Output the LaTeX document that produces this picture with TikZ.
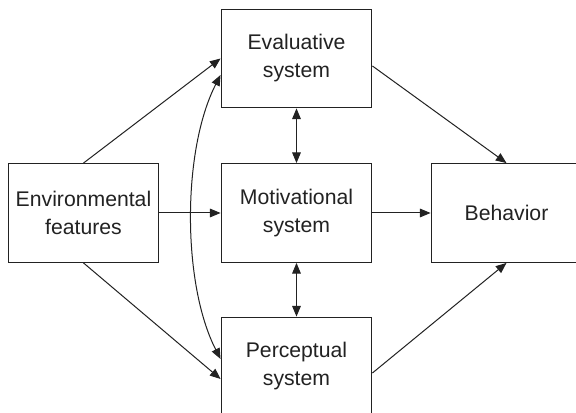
\documentclass[tikz,border=0pt]{standalone}
\usepackage{fontspec}
\setmainfont{Liberation Sans}
\usetikzlibrary{arrows.meta,calc}
\definecolor{ink}{HTML}{222222}
\begin{document}
\begin{tikzpicture}[x=0.75pt,y=0.75pt,
  sysbox/.style={draw=ink,line width=0.9pt,minimum width=113pt,minimum height=74pt,inner sep=0pt,
    align=center,font=\fontsize{15.9}{21}\selectfont,text=ink},
  conn/.style={draw=ink,line width=0.75pt,-{Triangle[length=8pt,width=6.5pt]}},
  dconn/.style={draw=ink,line width=0.75pt,{Triangle[length=8pt,width=6.5pt]}-{Triangle[length=8pt,width=6.5pt]}}]
\clip (0,0) rectangle (576,413);
\fill[white] (0,0) rectangle (576,413);
\node[sysbox] (eval) at (296.5,354.5) {Evaluative\\system};
\node[sysbox] (motiv) at (296.5,200) {Motivational\\system};
\node[sysbox] (perc) at (296.5,46.5) {Perceptual\\system};
\node[sysbox] (env) at (83.5,200) {Environmental\\features};
\node[sysbox] (beh) at (506.5,200) {Behavior};
\draw[conn] (env.north) -- (eval.west);
\draw[conn] (env.south) -- ($(perc.west)+(0,-12.5)$);
\draw[conn] (env.east) -- (motiv.west);
\draw[conn] (motiv.east) -- (beh.west);
\draw[conn] ($(eval.east)+(0,-7.5)$) -- (beh.north);
\draw[conn] ($(perc.east)+(0,-6.5)$) -- (beh.south);
\draw[dconn] (eval.south) -- (motiv.north);
\draw[dconn] (motiv.south) -- (perc.north);
\draw[dconn] ($(eval.west)+(0,-16.5)$) .. controls (182,263) and (182,129) .. ($(perc.west)+(0,7.5)$);
\end{tikzpicture}
\end{document}
